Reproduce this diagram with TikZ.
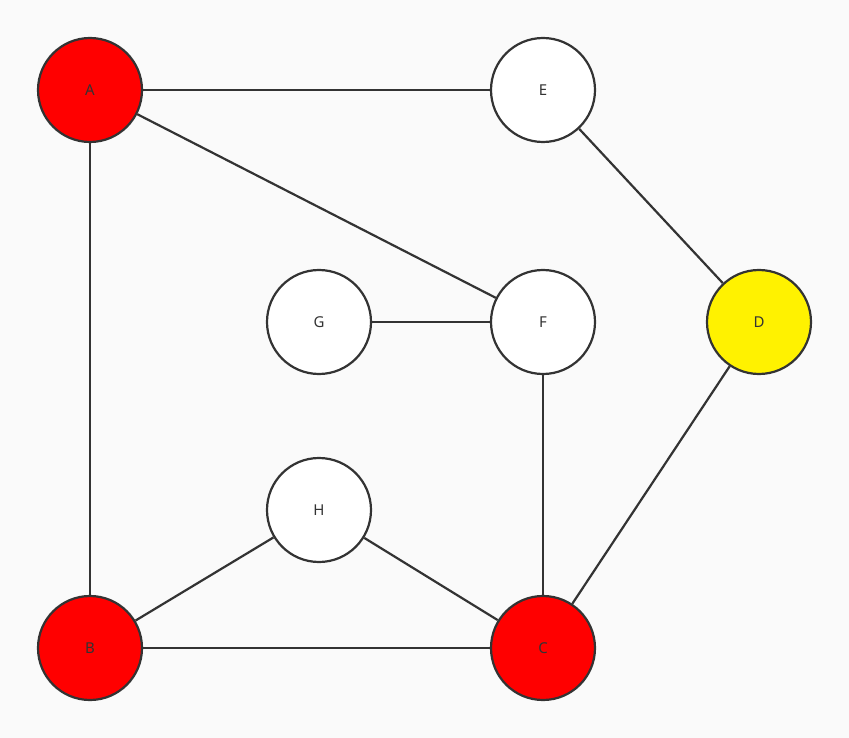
\documentclass[tikz,border=0pt]{standalone}
\usepackage{fontspec}
\setmainfont{Noto Sans}
\definecolor{bg}{HTML}{FAFAFA}
\definecolor{ln}{HTML}{333333}
\begin{document}
\begin{tikzpicture}[x=1pt,y=-1pt,
  v/.style={circle,draw=ln,line width=2.2pt,minimum size=104pt,inner sep=0pt,fill=white,font=\fontsize{15}{15}\selectfont,text=ln},
  e/.style={draw=ln,line width=2.2pt}]
\fill[bg] (0,0) rectangle (849,738);
\useasboundingbox (0,0) rectangle (849,738);
\node[v,fill=red] (A) at (90,90) {A};
\node[v] (E) at (543,90) {E};
\node[v,fill=yellow] (D) at (759,322) {D};
\node[v] (G) at (319,322) {G};
\node[v] (F) at (543,322) {F};
\node[v] (H) at (319,510) {H};
\node[v,fill=red] (B) at (90,648) {B};
\node[v,fill=red] (C) at (543,648) {C};
\draw[e] (A)--(E); \draw[e] (A)--(F); \draw[e] (A)--(B); \draw[e] (E)--(D);
\draw[e] (G)--(F); \draw[e] (F)--(C); \draw[e] (H)--(B); \draw[e] (H)--(C);
\draw[e] (B)--(C); \draw[e] (C)--(D);
\end{tikzpicture}
\end{document}
